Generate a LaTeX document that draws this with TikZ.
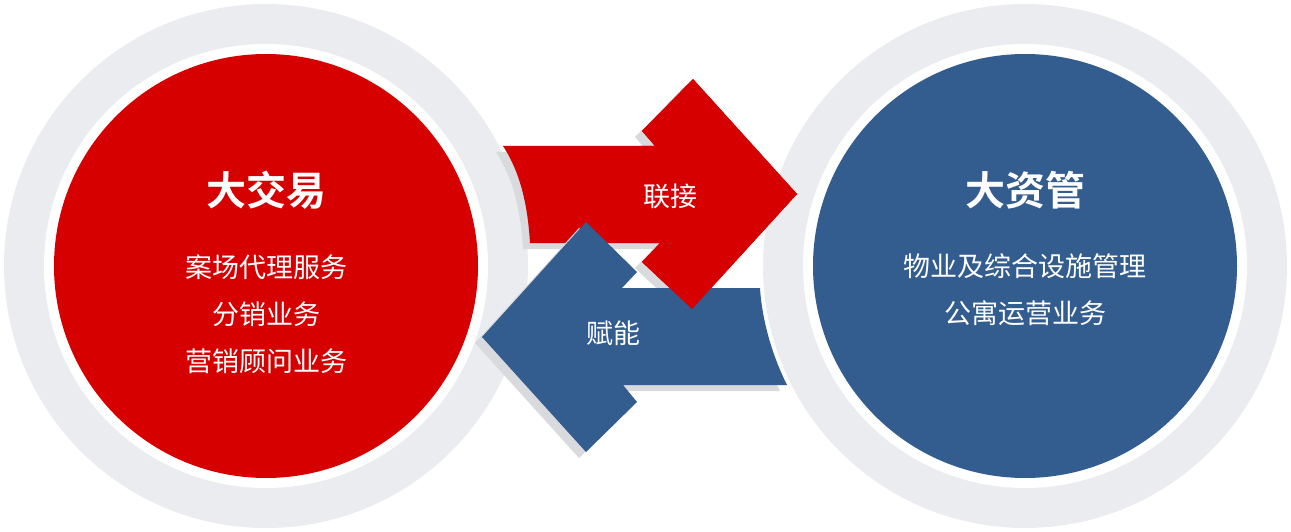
\documentclass[tikz,border=0pt]{standalone}
\usepackage{fontspec}
\newfontfamily\cjk{Noto Sans CJK SC}
\newfontfamily\cjkb{Noto Sans CJK SC Bold}
\definecolor{myred}{HTML}{D60000}
\definecolor{myblue}{HTML}{335C8F}
\definecolor{ring}{HTML}{EBECF0}
\definecolor{shad}{HTML}{D9DADD}
\begin{document}
\begin{tikzpicture}[x=1pt,y=-1pt,
  title/.style={text=white,font=\cjkb\fontsize{40}{44}\selectfont},
  body/.style={text=white,font=\cjk\fontsize{27}{47}\selectfont,align=center},
  lab/.style={text=white,font=\cjk\fontsize{27}{30}\selectfont}]
\useasboundingbox (0,0) rectangle (1291,532);
\def\redarrow{(503,146) .. controls (522,175) and (528,210) .. (530,243) -- (660,243) -- (642,262) -- (692,309) -- (797,194) -- (693,79) -- (642,131) -- (655,146) -- cycle}
\def\bluearrow{(482,337) -- (586,452) -- (637,402) -- (623,385) -- (787,385) .. controls (772,355) and (762,320) .. (760,288) -- (622,288) -- (637,272) -- (586,222) -- cycle}
% circles
\fill[ring] (266,266) circle (262);
\fill[white] (266,266) circle (222);
\fill[myred] (266,266) circle (212);
\fill[ring] (1025,266) circle (262);
\fill[white] (1025,266) circle (222);
\fill[myblue] (1025,266) circle (212);
% arrows
\fill[shad,shift={(-7,6)}] \redarrow;
\fill[myred] \redarrow;
\fill[shad,shift={(-7,6)}] \bluearrow;
\fill[myblue] \bluearrow;
\begin{scope}
\clip (640,0) rectangle (800,532);
\fill[myred] \redarrow;
\end{scope}
\node[lab] (lj) at (670,196) {联接};
\node[lab] (fn) at (613,333) {赋能};
\node[title] (l) at (266,190) {大交易};
\node[body] (lt) at (266,314) {案场代理服务\\分销业务\\营销顾问业务};
\node[title] (r) at (1025,190) {大资管};
\node[body] (rt) at (1025,290) {物业及综合设施管理\\公寓运营业务};
\end{tikzpicture}
\end{document}
